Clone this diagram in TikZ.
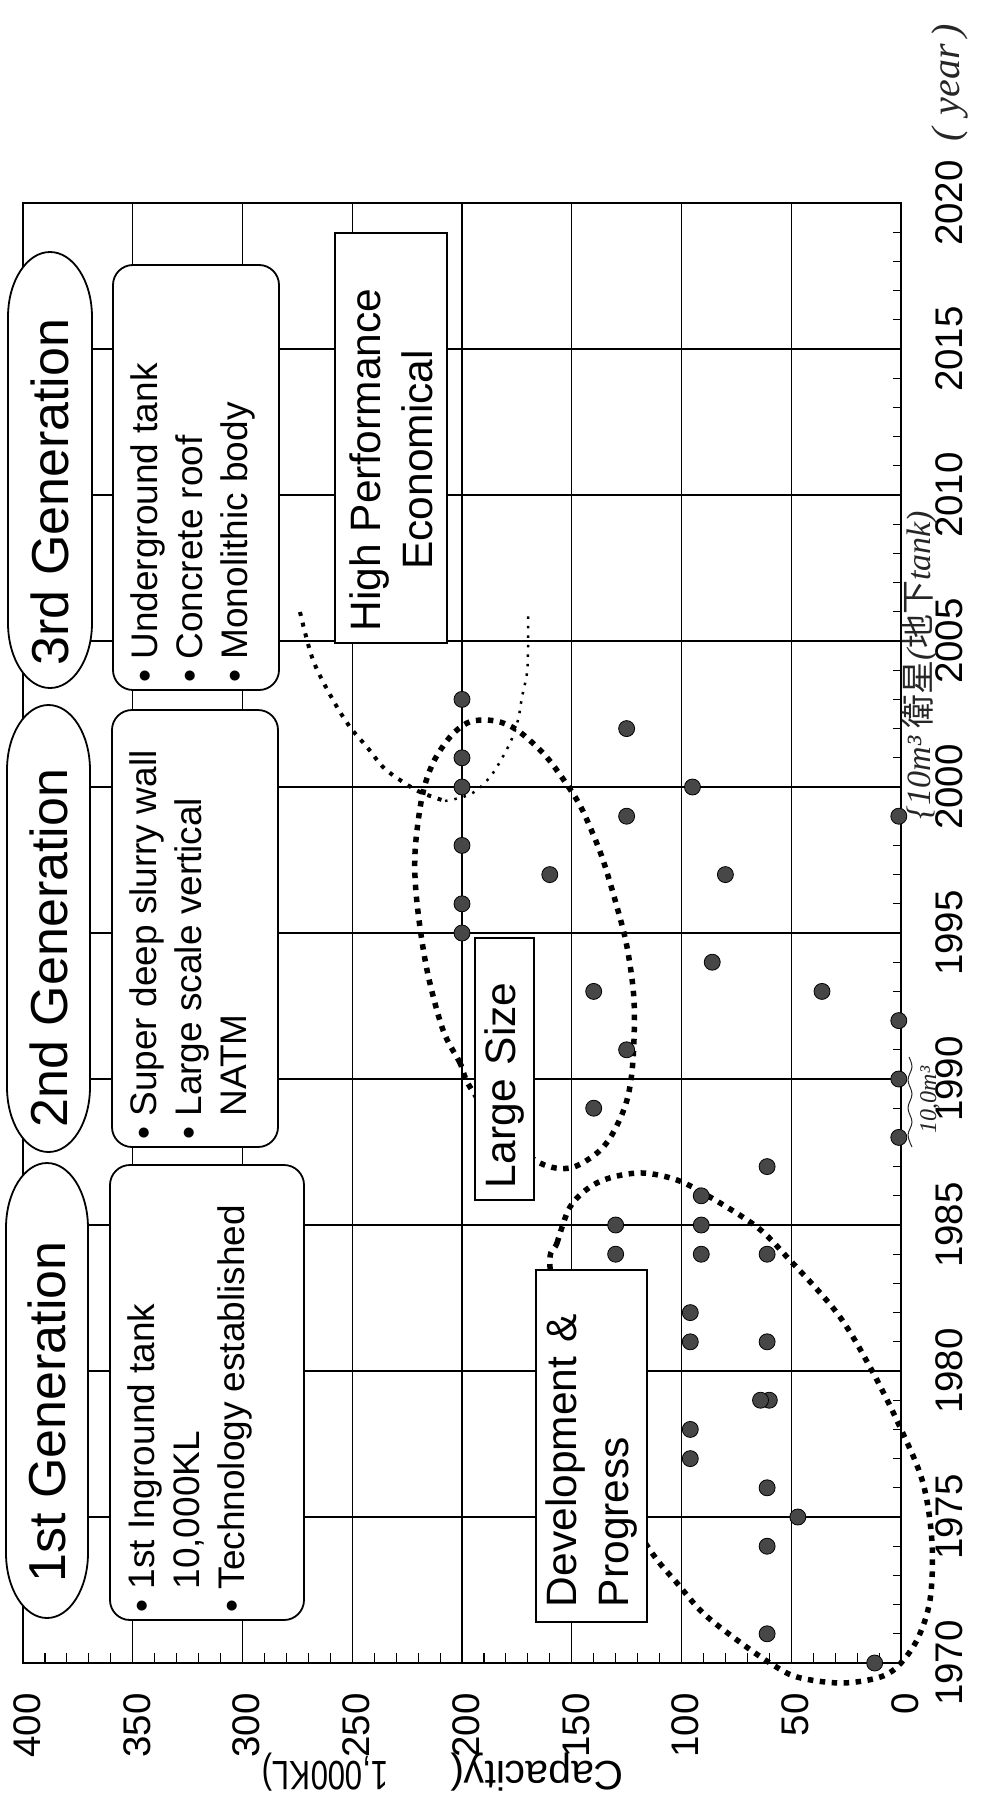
\documentclass[tikz,border=0pt]{standalone}
\usepackage{fontspec}
\usepackage{graphicx}
\setmainfont{Liberation Sans}
\newfontfamily\handfont{Liberation Serif}
\newfontfamily\cjkfont{Noto Sans CJK JP}
\tikzset{
  gridline/.style={line width=1.1pt},
  genoval/.style={draw, fill=white, line width=1.8pt},
  gentext/.style={rotate=90, font=\fontsize{52}{60}\selectfont, inner sep=0pt},
  featbox/.style={draw, rounded corners=20pt, fill=white, line width=1.8pt, rotate=90, inner sep=0pt},
  feattext/.style={rotate=90, align=left, anchor=north west, font=\fontsize{37}{45}\selectfont, inner sep=0pt},
  tagbox/.style={draw, fill=white, line width=1.8pt, rotate=90, font=\fontsize{42.5}{52}\selectfont},
  yearlabel/.style={rotate=90, anchor=north, inner sep=0pt, font=\fontsize{38.5}{40}\selectfont},
  caplabel/.style={rotate=90, anchor=east, inner sep=0pt, font=\fontsize{38.5}{40}\selectfont},
  tank/.style={draw=black, fill=black!72, line width=0.8pt},
  bigdots/.style={line width=5.5pt, dash pattern=on 5.5pt off 6.5pt},
  finedots/.style={line width=2.5pt, dash pattern=on 2.5pt off 7pt},
  hand/.style={rotate=90, inner sep=0pt, text=black!85, font=\handfont\itshape\fontsize{40}{42}\selectfont}
}
\begin{document}
\begin{tikzpicture}[x=1pt, y=-1pt]
\useasboundingbox (0,0) rectangle (992,1809);
% grid and ticks
\foreach \k in {1,...,7}
	\draw[gridline] ({901-109.75*\k},203) -- ({901-109.75*\k},1663);
\foreach \k in {1,...,9}
	\draw[gridline] (23,{1663-146*\k}) -- (901,{1663-146*\k});
\foreach \i in {1,...,39}
	\draw[gridline] ({901-21.95*\i},1663) -- ({901-21.95*\i},1653);
\foreach \i in {1,...,49}
	\draw[gridline] (901,{1663-29.2*\i}) -- (893,{1663-29.2*\i});
\draw[line width=2.6pt] (23,203) rectangle (901,1663);

% axis labels
\foreach \yr [count=\i from 0] in {1970,1975,...,2020}
	\node[yearlabel] (year\yr) at (935,{1663-146*\i}) {\yr};
\foreach \c in {0,50,...,400}
	\node[caplabel] (cap\c) at ({905-2.195*\c},1693) {\c};
\node[rotate=180, inner sep=0pt, font=\fontsize{41}{44}\selectfont] (captitle) at (443,1772)
	{Capacity(\hspace{62pt}\scalebox{0.76}[1]{1,000KL)}};

% dotted groupings
\draw[bigdots] plot[smooth cycle, tension=0.55] coordinates {
	(550,1267) (557,1243) (570,1207) (590,1187) (613,1177) (643,1173) (677,1180)
	(710,1197) (757,1227) (787,1257) (837,1313) (870,1367) (900,1427) (923,1483)
	(932,1543) (930,1600) (917,1640) (897,1667) (877,1678) (840,1683) (797,1677)
	(770,1663) (737,1640) (703,1613) (677,1583) (650,1550) (600,1470) (565,1380)};
\draw[bigdots] plot[smooth cycle, tension=0.55] coordinates {
	(470,1087) (460,1063) (443,1030) (427,970) (417,903) (415,853) (422,797)
	(433,763) (450,737) (467,723) (483,720) (500,722) (517,730) (537,747)
	(553,765) (577,800) (590,827) (603,860) (617,907) (627,947) (634,1000)
	(633,1060) (627,1100) (613,1133) (597,1153) (570,1168) (540,1163) (505,1135)};
\draw[line width=4pt, dash pattern=on 4pt off 7pt] plot[smooth, tension=0.55] coordinates {
	(300,612) (313,660) (333,700) (350,727) (367,747) (383,767) (400,780) (420,792) (445,801)};
\draw[finedots] plot[smooth, tension=0.55] coordinates {
	(445,801) (463,797) (477,790) (493,773) (510,743) (518,720) (522,697) (527,673) (528,647) (528,612)};

% tanks
\foreach \yr/\cp in {1970/12, 1971/61, 1974/61, 1975/47, 1976/61, 1977/96, 1978/96,
		1979/60, 1979/64, 1981/96, 1982/96, 1981/61, 1984/130, 1985/130, 1984/91,
		1985/91, 1986/91, 1984/61, 1987/61, 1988/1, 1990/1, 1992/1, 1999/1,
		1989/140, 1991/125, 1993/140, 1993/36, 1994/86, 1995/200, 1996/200,
		1997/160, 1997/80, 1998/200, 1999/125, 2000/200, 2000/95, 2001/200,
		2002/125, 2003/200}
	\draw[tank] ({901-2.195*\cp},{1663-29.2*(\yr-1970)}) circle[radius=8pt];

% generations
\draw[genoval] (8,317) arc[start angle=180, end angle=0, x radius=42pt, y radius=65pt]
	-- (92,623) arc[start angle=0, end angle=-180, x radius=42pt, y radius=65pt] -- cycle;
\node[gentext] (gen3) at (50,492) {3rd Generation};
\draw[genoval] (7,770) arc[start angle=180, end angle=0, x radius=41.5pt, y radius=65pt]
	-- (90,1087) arc[start angle=0, end angle=-180, x radius=41.5pt, y radius=65pt] -- cycle;
\node[gentext] (gen2) at (48.5,948) {2nd Generation};
\draw[genoval] (6,1228) arc[start angle=180, end angle=0, x radius=41pt, y radius=65pt]
	-- (88,1553) arc[start angle=0, end angle=-180, x radius=41pt, y radius=65pt] -- cycle;
\node[gentext] (gen1) at (47,1412) {1st Generation};

\node[featbox, minimum width=425pt, minimum height=166pt] (feat3) at (196,477.5) {};
\node[feattext] (feat3text) at ([xshift=18pt, yshift=8pt]feat3.north west)
	{• Underground tank\\• Concrete roof\\• Monolithic body};
\node[featbox, minimum width=437pt, minimum height=166pt] (feat2) at (195,928.5) {};
\node[feattext] (feat2text) at ([xshift=18pt, yshift=8pt]feat2.north west)
	{• Super deep slurry wall\\• Large scale vertical\\\phantom{•} NATM};
\node[featbox, minimum width=455pt, minimum height=194pt] (feat1) at (207,1392.5) {};
\node[feattext] (feat1text) at ([xshift=18pt, yshift=8pt]feat1.north west)
	{• 1st Inground tank\\\phantom{•} 10,000KL\\• Technology established};

% trends
\node[tagbox, minimum width=410pt, minimum height=112pt] (perf) at (391,438) {};
\node[rotate=90, align=center, inner sep=0pt, font=\fontsize{42.5}{52}\selectfont] (perftext) at (391,460)
	{High Performance\\Economical};
\node[tagbox, minimum height=59pt, text width=238pt, inner xsep=12pt, inner ysep=0pt, align=left]
	(large) at (504.5,1069) {Large Size};
\node[tagbox, minimum height=111pt, text width=322pt, inner xsep=15pt, align=left]
	(devel) at (591.5,1446) {Development \&\\Progress};

% handwritten notes
\node[hand] (yearnote) at (950,83) {(\,\,year\,)};
\node[hand, font=\handfont\itshape\fontsize{34}{36}\selectfont] (satnote) at (920,665)
	{\{10m³ {\cjkfont 衛星}({\cjkfont 地下}tank)};
\node[hand, font=\handfont\itshape\fontsize{24}{26}\selectfont] (smallnote) at (930,1100) {10,0m³};
\draw[black!85, line width=1pt] plot[smooth, tension=0.6] coordinates {
	(912,1147) (908,1135) (912,1122) (908,1108) (912,1094) (908,1080) (912,1067) (909,1057)};
\end{tikzpicture}
\end{document}
